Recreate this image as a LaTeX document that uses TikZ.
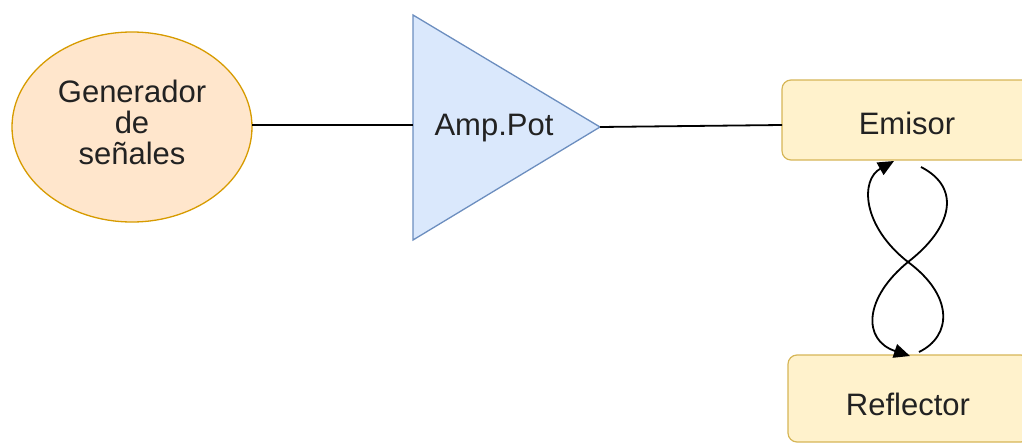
\documentclass[tikz,border=0pt]{standalone}
\usepackage{fontspec}
\setmainfont{Liberation Sans}
\usetikzlibrary{arrows.meta,shapes.geometric}
\definecolor{ofill}{HTML}{FFE6CC}
\definecolor{odraw}{HTML}{D79B00}
\definecolor{bfill}{HTML}{DAE8FC}
\definecolor{bdraw}{HTML}{6C8EBF}
\definecolor{yfill}{HTML}{FFF2CC}
\definecolor{ydraw}{HTML}{D6B656}
\definecolor{txt}{HTML}{222222}
\tikzset{
  lbl/.style={font=\fontsize{31}{31}\selectfont, text=txt, align=center},
  ybox/.style={draw=ydraw, fill=yfill, line width=1.2pt, rounded corners=9pt},
  conn/.style={line width=1.8pt, black},
  loop/.style={line width=1.8pt, black, -{Triangle[length=16pt,width=14pt]}},
}
\begin{document}
\begin{tikzpicture}[x=1pt,y=-1pt]
\useasboundingbox (0,0) rectangle (1022,444);
\clip (0,0) rectangle (1022,444);
% ellipse
\draw[draw=odraw, fill=ofill, line width=1.3pt] (132,127) ellipse [x radius=120, y radius=95];
\node[lbl] (gen) at (132,122) {Generador\\de\\señales};
\coordinate (genE) at (252,125);
% triangle
\draw[draw=bdraw, fill=bfill, line width=1.3pt] (413,15) -- (600,127) -- (413,240) -- cycle;
\coordinate (ampW) at (413,125);
\coordinate (ampE) at (600,127);
\node[lbl] (amp) at (494,128) {Amp.Pot};
% boxes
\draw[ybox] (782,80) rectangle (1034,160);
\node[lbl] (emi) at (907,123) {Emisor};
\coordinate (emiW) at (782,125);
\draw[ybox] (788,355) rectangle (1030,442);
\node[lbl] (ref) at (908,404) {Reflector};
% connectors
\draw[conn] (genE) -- (ampW);
\draw[conn] (ampE) -- (emiW);
% figure-eight loops
\coordinate (a1) at (921,167);
\coordinate (a2) at (910,356);
\coordinate (b1) at (919,352);
\coordinate (b2) at (894,161);
\coordinate (x) at (908,262);
\draw[loop] (a1) .. controls (962,188) and (952,228) .. (x) .. controls (864,298) and (862,340) .. (a2);
\draw[loop] (b1) .. controls (952,336) and (954,296) .. (x) .. controls (862,226) and (860,180) .. (b2);
\end{tikzpicture}
\end{document}
